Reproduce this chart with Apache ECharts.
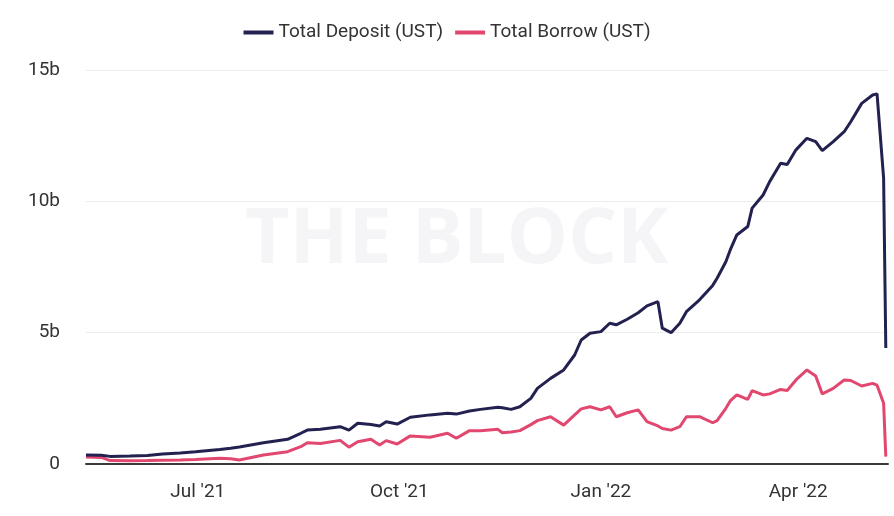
<!DOCTYPE html>
<html>
<head>
<meta charset="utf-8">
<script src="https://cdn.jsdelivr.net/npm/echarts@6/dist/echarts.min.js"></script>
<style>html,body{margin:0;padding:0;background:#fff}#c{width:894px;height:516px}</style>
</head>
<body>
<div id="c"></div>
<script>
const dates = ['2021-05-11','2021-05-18','2021-05-22','2021-05-31','2021-06-08','2021-06-15','2021-06-23','2021-06-30','2021-07-11','2021-07-16','2021-07-20','2021-07-31','2021-08-11','2021-08-17','2021-08-20','2021-08-26','2021-09-04','2021-09-08','2021-09-12','2021-09-18','2021-09-22','2021-09-25','2021-09-30','2021-10-06','2021-10-15','2021-10-23','2021-10-27','2021-11-02','2021-11-07','2021-11-15','2021-11-17','2021-11-21','2021-11-25','2021-11-30','2021-12-03','2021-12-09','2021-12-15','2021-12-20','2021-12-23','2021-12-27','2022-01-01','2022-01-05','2022-01-08','2022-01-13','2022-01-18','2022-01-22','2022-01-27','2022-01-29','2022-02-02','2022-02-06','2022-02-09','2022-02-15','2022-02-21','2022-02-23','2022-02-27','2022-03-01','2022-03-04','2022-03-09','2022-03-11','2022-03-16','2022-03-19','2022-03-24','2022-03-27','2022-03-31','2022-04-05','2022-04-09','2022-04-12','2022-04-17','2022-04-22','2022-04-25','2022-04-30','2022-05-05','2022-05-07','2022-05-10','2022-05-11'];
const deposit = [0.34,0.33,0.29,0.30,0.32,0.38,0.42,0.47,0.55,0.60,0.65,0.81,0.94,1.17,1.29,1.32,1.42,1.29,1.55,1.50,1.45,1.61,1.52,1.78,1.87,1.93,1.90,2.02,2.08,2.16,2.14,2.08,2.18,2.50,2.88,3.26,3.58,4.15,4.72,4.98,5.04,5.36,5.30,5.51,5.76,6.02,6.18,5.17,5.00,5.36,5.80,6.25,6.80,7.07,7.70,8.15,8.72,9.04,9.74,10.24,10.75,11.45,11.40,11.96,12.40,12.27,11.93,12.27,12.65,13.03,13.73,14.05,14.09,10.88,4.42];
const borrow = [0.27,0.25,0.13,0.12,0.13,0.14,0.15,0.17,0.22,0.20,0.15,0.34,0.47,0.66,0.81,0.78,0.90,0.64,0.85,0.94,0.72,0.89,0.76,1.07,1.02,1.17,0.98,1.27,1.27,1.32,1.19,1.22,1.27,1.50,1.65,1.80,1.48,1.87,2.10,2.18,2.06,2.18,1.80,1.95,2.06,1.61,1.45,1.35,1.29,1.42,1.80,1.80,1.57,1.65,2.12,2.40,2.63,2.46,2.79,2.63,2.67,2.84,2.80,3.20,3.58,3.35,2.67,2.88,3.20,3.18,2.97,3.07,3.00,2.31,0.28];
const tickDates = ['2021-07-01','2021-10-01','2022-01-01','2022-04-01'];
const tickLabels = ["Jul '21","Oct '21","Jan '22","Apr '22"];
const yTicks = [0,5,10,15];
const yLabels = ['0','5b','10b','15b'];

const ts = d => new Date(d + 'T00:00:00Z').getTime();
const tickTs = tickDates.map(ts);
const font = 'Roboto, "Noto Sans", sans-serif';

const chart = echarts.init(document.getElementById('c'), null, {renderer:'canvas'});
chart.setOption({
  animation:false,
  backgroundColor:'#fff',
  graphic:[{type:'text', left:245, top:203, z:0, silent:true,
    style:{text:'THE BLOCK', fontSize:77, fontWeight:'bold', fontFamily:'"Open Sans", sans-serif', fill:'#f5f5f7'}}],
  legend:{top:18, left:'center', itemWidth:30, itemHeight:4, itemGap:12,
    icon:'rect',
    textStyle:{fontSize:19, color:'#333', fontFamily:font},
    data:['Total Deposit (UST)','Total Borrow (UST)']},
  grid:{left:86, right:6, top:70, bottom:52, containLabel:false},
  xAxis:{type:'value', min:ts('2021-05-11'), max:ts('2022-05-12'),
    axisLine:{show:true, onZero:false, lineStyle:{color:'#3a3a3a', width:2}},
    axisTick:{show:false},
    splitLine:{show:false},
    axisLabel:{customValues:tickTs, margin:19, fontSize:19, color:'#333', fontFamily:font,
      formatter:v=>{const i=tickTs.indexOf(v); return i>=0?tickLabels[i]:'';}}},
  yAxis:{type:'value', min:0, max:15, interval:5,
    axisLine:{show:false}, axisTick:{show:false},
    splitLine:{lineStyle:{color:'#ececec', width:1}},
    axisLabel:{margin:26, fontSize:19, color:'#333', fontFamily:font,
      formatter:v=>{const i=yTicks.indexOf(v); return i>=0?yLabels[i]:'';}}},
  series:[
    {name:'Total Deposit (UST)', type:'line', showSymbol:false, symbol:'none', z:3,
      itemStyle:{color:'#23214f'}, lineStyle:{color:'#23214f', width:3},
      data:dates.map((d,i)=>[ts(d), deposit[i]])},
    {name:'Total Borrow (UST)', type:'line', showSymbol:false, symbol:'none', z:2,
      itemStyle:{color:'#e1476f'}, lineStyle:{color:'#e1476f', width:3},
      data:dates.map((d,i)=>[ts(d), borrow[i]])}
  ]
});
</script>
</body>
</html>
